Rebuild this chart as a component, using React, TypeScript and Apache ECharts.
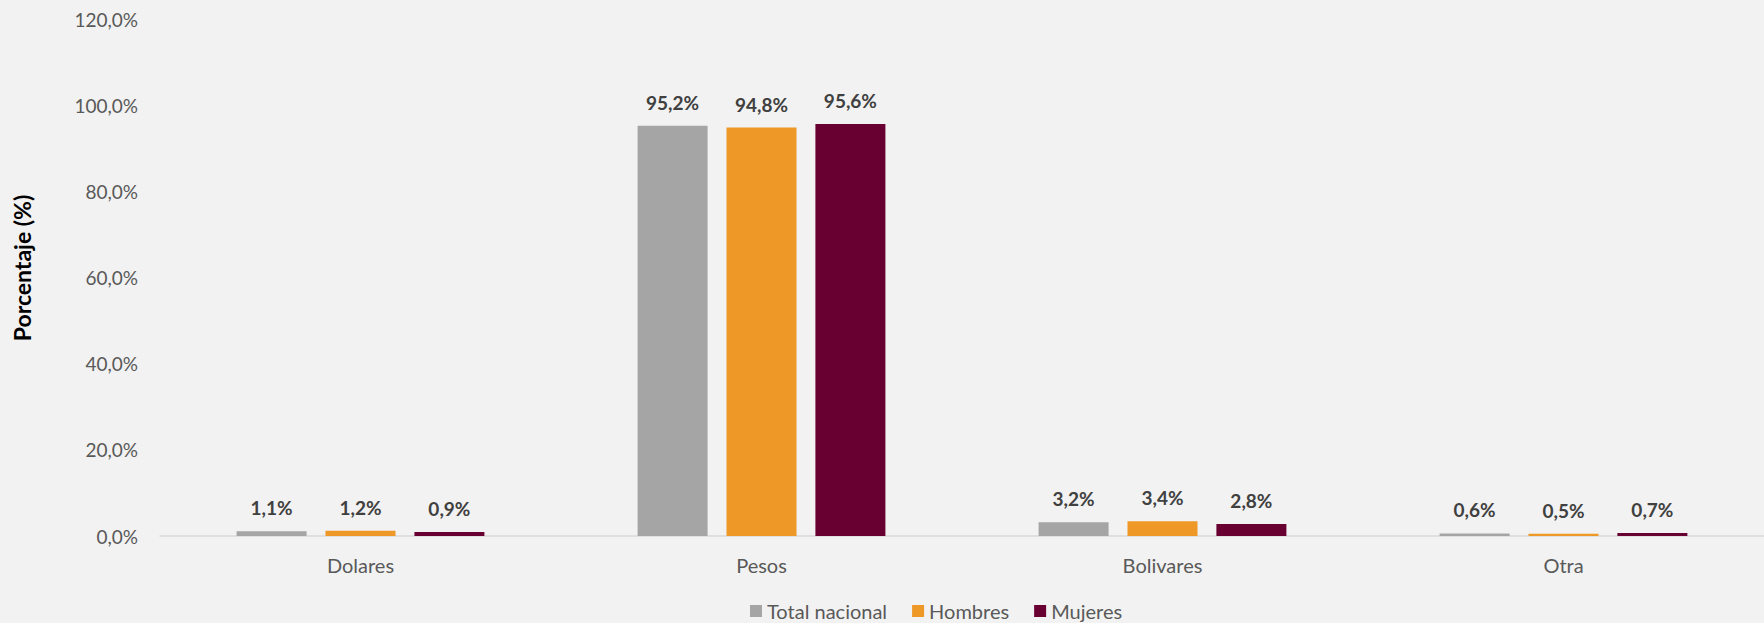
import React, { useEffect, useRef } from "react";
import * as echarts from "echarts";

const categories = ["Dolares", "Pesos", "Bolivares", "Otra"];
const seriesNames = ["Total nacional", "Hombres", "Mujeres"];
const totalNacional = [1.1, 95.2, 3.2, 0.6];
const hombres = [1.2, 94.8, 3.4, 0.5];
const mujeres = [0.9, 95.6, 2.8, 0.7];
const colors = ["#a5a5a5", "#ee9828", "#690032"];
const yTicks = { min: 0, max: 120, interval: 20 };
const yTitle = "Porcentaje (%)";

const FONT = "Lato, 'Open Sans', sans-serif";

const fmt = (v: number) => v.toFixed(1).replace(".", ",") + "%";

export default function App() {
  const ref = useRef<HTMLDivElement>(null);
  useEffect(() => {
    if (!ref.current) return;
    const chart = echarts.init(ref.current, undefined, { renderer: "svg" });
    const dataSets = [totalNacional, hombres, mujeres];
    chart.setOption({
      animation: false,
      backgroundColor: "#f2f2f2",
      textStyle: { fontFamily: FONT },
      grid: { left: 160, right: -10, top: 19, bottom: 87, containLabel: false },
      graphic: [
        {
          type: "text",
          x: 22,
          y: 268,
          rotation: Math.PI / 2,
          style: {
            text: yTitle,
            fill: "#000000",
            font: `bold 23px ${FONT}`,
            textAlign: "center",
            textVerticalAlign: "middle",
          },
        },
      ],
      legend: {
        left: 745,
        top: 596,
        itemWidth: 12,
        itemHeight: 12,
        itemGap: 25,
        icon: "rect",
        textStyle: { color: "#595959", fontSize: 20, fontFamily: FONT },
        data: seriesNames,
      },
      xAxis: {
        type: "category",
        data: categories,
        axisLine: { show: true, lineStyle: { color: "#d9d9d9", width: 1.5 } },
        axisTick: { show: false },
        axisLabel: { color: "#595959", fontSize: 20, margin: 19, fontFamily: FONT },
      },
      yAxis: {
        type: "value",
        min: yTicks.min,
        max: yTicks.max,
        interval: yTicks.interval,
        axisLine: { show: false },
        axisTick: { show: false },
        splitLine: { show: false },
        axisLabel: {
          color: "#595959",
          fontSize: 19,
          margin: 22,
          fontFamily: FONT,
          formatter: (v: number) => fmt(v),
        },
      },
      series: seriesNames.map((name, i) => ({
        name,
        type: "bar",
        data: dataSets[i],
        barWidth: 70,
        barGap: "27%",
        itemStyle: { color: colors[i] },
        label: {
          show: true,
          position: "top",
          distance: 14,
          color: "#404040",
          fontSize: 19,
          fontWeight: "bold",
          fontFamily: FONT,
          formatter: (p: any) => fmt(p.value),
        },
      })),
    });
    return () => chart.dispose();
  }, []);
  return (
    <div
      ref={ref}
      style={{ position: "fixed", left: 0, top: 0, width: 1764, height: 623 }}
    />
  );
}
